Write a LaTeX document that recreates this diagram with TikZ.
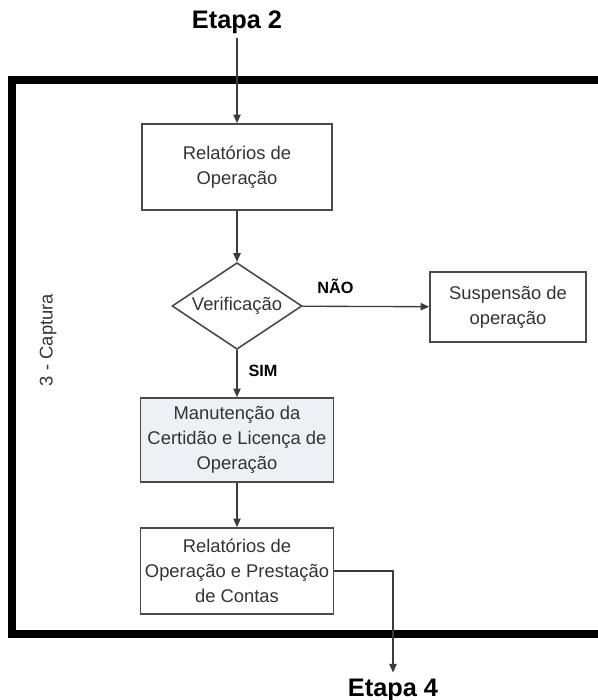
\documentclass[tikz,border=0pt]{standalone}
\usepackage{fontspec}
\setmainfont{Liberation Sans}
\usetikzlibrary{positioning, shapes, arrows.meta}
\definecolor{boxgray}{HTML}{4A4A4A}
\definecolor{txtgray}{HTML}{333333}
\definecolor{linegray}{HTML}{3C3C3C}
\definecolor{boxfill}{HTML}{EEF0F5}
\tikzset{%
  block/.style    = {draw = boxgray, line width = 1.2pt, rectangle, align = center,
    minimum height = 64.5pt, minimum width = 142.5pt, text = txtgray,
    font = \fontsize{13.8}{18.8}\selectfont},
  decision/.style = {draw = boxgray, line width = 1.2pt, diamond, aspect = 1.5,
    inner sep = 0pt, minimum width = 97.5pt, minimum height = 65pt, text = txtgray,
    font = \fontsize{13.8}{18.8}\selectfont}, % Verificacao
  etapa/.style    = {font = \fontsize{19}{22}\selectfont\bfseries}, % Etapas
  answer/.style   = {font = \fontsize{12.2}{14}\selectfont\bfseries},
  flow/.style     = {-{Triangle[length = 6.5pt, width = 5.5pt]}, line width = 1pt,
    draw = linegray}
}

\begin{document}
\begin{tikzpicture}[x = 0.75pt, y = -0.75pt]
\useasboundingbox (0,0) rectangle (598,700);
%blocks
\draw
	(237,22) node [etapa] (e2) {Etapa 2}
	(237,167) node [block] (rel) {Relatórios de\\Operação}
	(237,306) node [decision] (ver) {Verificação}
	(508,307) node [block, minimum width = 117pt, minimum height = 52.5pt] (susp) {Suspensão de\\operação}
	(237,440) node [block, fill = boxfill, minimum width = 144.75pt, minimum height = 63pt] (man) {Manutenção da\\Certidão e Licença de\\Operação}
	(237,571) node [block, minimum width = 144.75pt] (rpc) {Relatórios de\\Operação e Prestação\\de Contas}
	(393,690) node [etapa] (e4) {Etapa 4};
%frame
\draw[line width = 6pt] (610,80) -- (12,80) -- (12,634) -- (610,634);
%lines
\draw[flow] (e2) -- (rel);
\draw[flow] (rel) -- (ver);
\draw[flow] (ver) -- node [answer, pos = 0.26, yshift = 15pt] {NÃO} (susp);
\draw[flow] (ver) -- node [answer, pos = 0.44, xshift = 19.5pt] {SIM} (man);
\draw[flow] (man) -- (rpc);
\draw[flow, shorten > = 1pt] (rpc) -| (e4);
%labels
\node [rotate = 90, text = txtgray, font = \fontsize{13.8}{16}\selectfont] (cap) at (48,340) {3 - Captura};
\end{tikzpicture}
\end{document}
